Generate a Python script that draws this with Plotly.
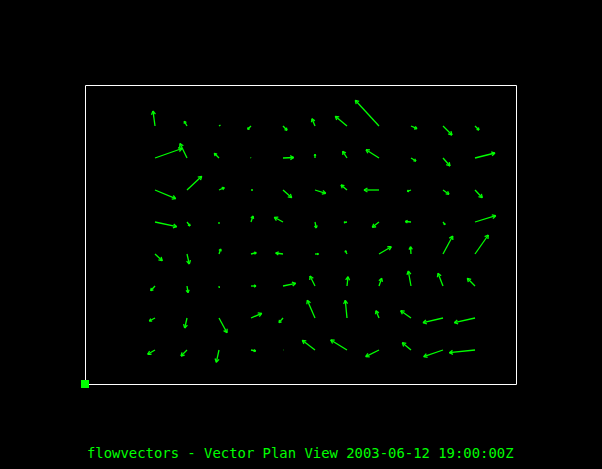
import numpy as np
import plotly.graph_objects as go

# grid indices
cols = list(range(11))          # x grid index
rows_top_to_bottom = [7, 6, 5, 4, 3, 2, 1, 0]  # y grid index

# vector components (x east, y north), rows listed top to bottom
u_rows = [
    [-2.0, -2.7, 1.5, -3.3, 4.0, -3.0, -11.7, -23.7, 6.0, 9.0, 4.0],
    [27.0, -7.0, -4.7, -0.5, 10.7, 0.0, -4.3, -13.0, 5.0, 7.0, 20.0],
    [20.7, 14.7, 5.3, 2.0, 8.7, 10.7, -6.0, -15.0, -3.7, 6.0, 7.3],
    [21.7, 3.0, 0.0, 2.0, -8.7, 1.3, -3.0, -6.7, -5.7, 2.0, 20.7],
    [7.3, 2.3, 1.7, 5.3, -7.3, 3.5, -1.7, 12.3, -0.5, 9.7, 13.3],
    [-4.3, 1.0, 0.3, 5.0, 12.7, -5.0, 1.0, 2.7, -2.7, -5.0, -7.7],
    [-5.7, -2.3, 8.0, 10.7, -4.0, -7.7, -1.7, -3.0, -10.3, -20.0, -20.7],
    [-7.3, -6.0, -2.7, 4.7, 0.3, -12.7, -16.3, -13.3, -8.7, -19.3, -25.7],
]
v_rows = [
    [15.0, 4.7, 1.0, -3.3, -4.3, 7.3, 9.7, 25.7, -2.7, -9.0, -4.0],
    [9.5, 14.5, 4.7, 0.5, 0.5, 3.7, 6.7, 8.3, -3.0, -8.0, 5.0],
    [-8.7, 13.7, 2.3, 0.0, -7.7, -3.3, 5.0, 0.0, -1.3, -4.3, -7.7],
    [-4.7, -4.0, -2.0, 6.0, 4.7, -6.0, -0.5, -5.3, 0.5, -2.7, 6.3],
    [-6.7, -10.0, 5.0, 1.3, 1.0, 0.0, 3.3, 7.3, 7.3, 18.0, 19.0],
    [-4.7, -6.7, -2.0, 0.0, 2.7, 10.0, 9.3, 7.7, 15.0, 12.7, 7.7],
    [-3.0, -10.0, -14.7, 4.7, -4.7, 17.7, 17.7, 7.3, 7.3, -4.7, -4.7],
    [-4.3, -6.0, -12.3, -1.0, 0.0, 9.7, 10.0, -6.7, 7.3, -6.7, -2.7],
]

title_text = "flowvectors - Vector Plan View 2003-06-12 19:00:00Z"

SCALE = 1.0 / 32.0      # vector units -> grid units
HEAD = 4.0              # head arm length (vector units)
GREEN = "#00ff00"

xs, ys = [], []
for r, j in enumerate(rows_top_to_bottom):
    for i in cols:
        u = u_rows[r][i]
        v = v_rows[r][i]
        x0, y0 = i, j
        x1, y1 = i + u * SCALE, j + v * SCALE
        xs += [x0, x1, None]
        ys += [y0, y1, None]
        L = np.hypot(u, v)
        if L > 2.5:
            h = min(HEAD, 0.45 * L)
            ang = np.arctan2(v, u)
            for d in (np.pi * 5 / 6, -np.pi * 5 / 6):
                xs += [x1, x1 + h * np.cos(ang + d) * SCALE, None]
                ys += [y1, y1 + h * np.sin(ang + d) * SCALE, None]

fig = go.Figure()
fig.add_trace(go.Scatter(x=xs, y=ys, mode="lines",
                         line=dict(color=GREEN, width=1.3),
                         hoverinfo="skip", showlegend=False))

xr = [-70 / 32, 361 / 32]
yr = [-34 / 32, 265 / 32]

fig.add_trace(go.Scatter(x=[xr[0]], y=[yr[0]], mode="markers",
                         marker=dict(symbol="square", size=8, color=GREEN),
                         cliponaxis=False, showlegend=False, hoverinfo="skip"))

fig.update_xaxes(range=xr, visible=False, showgrid=False, zeroline=False)
fig.update_yaxes(range=yr, visible=False, showgrid=False, zeroline=False)

# frame, nudged half a pixel so the 1px line is crisp
px_w, px_h = 431.0, 299.0
fig.add_shape(type="rect", xref="paper", yref="paper",
              x0=0.5 / px_w, y0=-0.5 / px_h, x1=1 + 0.5 / px_w, y1=1 - 0.5 / px_h,
              line=dict(color="white", width=1), layer="below")

fig.add_annotation(text=title_text, xref="paper", yref="paper",
                   x=0.5 - 0.5 / px_w, y=-(453 - 384) / 299, xanchor="center", yanchor="middle",
                   showarrow=False,
                   font=dict(family="DejaVu Sans Mono", size=13.9, color=GREEN))

fig.update_layout(width=602, height=469,
                  margin=dict(l=85, r=86, t=85, b=85),
                  paper_bgcolor="black", plot_bgcolor="black")

fig.write_html("out.html")
